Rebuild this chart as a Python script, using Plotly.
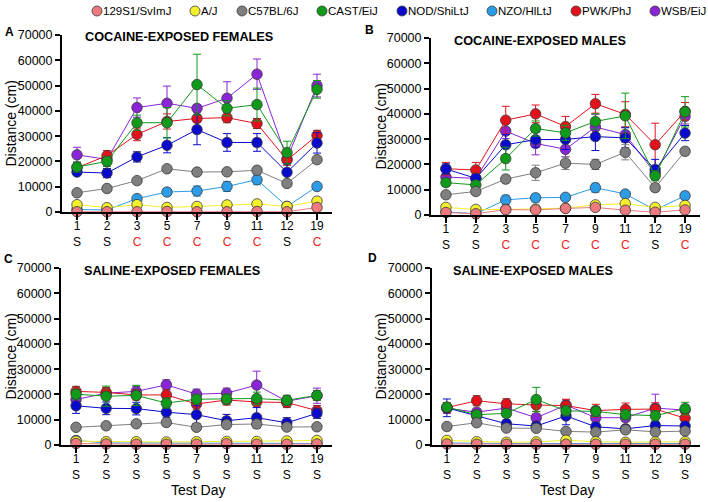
import plotly.graph_objects as go

# ---------------- data ----------------
days = ["1", "2", "3", "5", "7", "9", "11", "12", "19"]
cocaine_phase = ["S", "S", "C", "C", "C", "C", "C", "S", "C"]
saline_phase = ["S", "S", "S", "S", "S", "S", "S", "S", "S"]

strains = ["129S1/SvImJ", "A/J", "C57BL/6J", "CAST/EiJ", "NOD/ShiLtJ", "NZO/HlLtJ", "PWK/PhJ", "WSB/EiJ"]
colors = ["#EC7A7E", "#F4F02C", "#7F7F7F", "#109A1A", "#0A0ACC", "#2C9CE6", "#E3111B", "#8A24D6"]

# A: cocaine-exposed females (mean, SEM in cm)
coc_f_mean = {
    "129S1/SvImJ": [100, 100, 100, 200, 100, 100, 200, 100, 1800],
    "A/J": [2900, 1700, 2900, 1800, 2200, 2800, 3200, 2200, 4300],
    "C57BL/6J": [7600, 9300, 12400, 17100, 15800, 15900, 16500, 11300, 20700],
    "CAST/EiJ": [17800, 20000, 35300, 35300, 50400, 41000, 42500, 23500, 48500],
    "NOD/ShiLtJ": [15800, 15400, 21800, 26400, 32600, 27500, 27500, 15700, 27300],
    "NZO/HlLtJ": [1000, 800, 5300, 7900, 8300, 10100, 12800, 2200, 10100],
    "PWK/PhJ": [17500, 22300, 30700, 35800, 37000, 37300, 35000, 20500, 30300],
    "WSB/EiJ": [22600, 20800, 41300, 43000, 41000, 45000, 54500, 21000, 50000],
}
coc_f_sem = {
    "129S1/SvImJ": [100, 100, 100, 100, 100, 100, 100, 100, 1000],
    "A/J": [400, 400, 400, 400, 400, 400, 400, 400, 400],
    "C57BL/6J": [800, 800, 800, 800, 800, 800, 1200, 1000, 1000],
    "CAST/EiJ": [2000, 2000, 3000, 6000, 12000, 3000, 6500, 4500, 3500],
    "NOD/ShiLtJ": [1000, 1800, 2000, 3000, 6000, 3500, 3500, 3500, 4000],
    "NZO/HlLtJ": [400, 400, 1000, 1000, 2000, 2000, 2000, 500, 1000],
    "PWK/PhJ": [2000, 2000, 2500, 3000, 1500, 2000, 2000, 2000, 2000],
    "WSB/EiJ": [3000, 1500, 3800, 6800, 1500, 6500, 6000, 2000, 4500],
}

# B: cocaine-exposed males
coc_m_mean = {
    "129S1/SvImJ": [1000, 500, 2100, 2000, 2600, 3000, 1900, 1100, 2000],
    "A/J": [3000, 2200, 2200, 2300, 2700, 4000, 4500, 3000, 3800],
    "C57BL/6J": [8000, 9300, 14200, 16700, 20500, 20000, 24800, 10800, 25200],
    "CAST/EiJ": [12800, 11900, 22300, 34200, 32500, 37000, 39200, 15500, 40800],
    "NOD/ShiLtJ": [18200, 14500, 27800, 29800, 29900, 31000, 30500, 18000, 32400],
    "NZO/HlLtJ": [1200, 500, 6000, 6800, 7000, 10800, 8300, 2000, 7600],
    "PWK/PhJ": [18300, 17800, 37500, 40000, 35000, 44000, 39800, 27800, 41000],
    "WSB/EiJ": [15000, 14500, 33200, 28300, 26000, 34800, 31800, 16500, 39000],
}
coc_m_sem = {
    "129S1/SvImJ": [300, 300, 300, 300, 300, 300, 300, 300, 300],
    "A/J": [500, 500, 500, 500, 500, 500, 500, 500, 500],
    "C57BL/6J": [1000, 1000, 1500, 3000, 2500, 2000, 3000, 1500, 1500],
    "CAST/EiJ": [1500, 1500, 4500, 3000, 3000, 3000, 9000, 2000, 6000],
    "NOD/ShiLtJ": [2000, 1500, 4000, 3000, 4000, 5500, 4000, 4000, 3000],
    "NZO/HlLtJ": [500, 500, 1800, 1500, 1000, 1800, 1000, 500, 1500],
    "PWK/PhJ": [2500, 3000, 5500, 3500, 4000, 3700, 5000, 8500, 3500],
    "WSB/EiJ": [2000, 1500, 3000, 4500, 3000, 5000, 3000, 1500, 3000],
}

# C: saline-exposed females
sal_f_mean = {
    "129S1/SvImJ": [600, 400, 300, 300, 300, 500, 300, 300, 400],
    "A/J": [1500, 1300, 1300, 1200, 1300, 1400, 1400, 1600, 1800],
    "C57BL/6J": [7000, 7600, 8400, 8900, 7000, 8100, 8300, 7100, 7200],
    "CAST/EiJ": [20100, 19300, 19600, 16600, 18100, 18200, 18400, 17700, 19600],
    "NOD/ShiLtJ": [15500, 14500, 14400, 13000, 12000, 9600, 10800, 8800, 12500],
    "NZO/HlLtJ": [1800, 800, 800, 800, 800, 800, 600, 600, 600],
    "PWK/PhJ": [21200, 20800, 19800, 19800, 16200, 17800, 17000, 16800, 13600],
    "WSB/EiJ": [18000, 20500, 21200, 23800, 20100, 20500, 23700, 17300, 19500],
}
sal_f_sem = {
    "129S1/SvImJ": [200, 200, 200, 200, 200, 200, 200, 200, 200],
    "A/J": [300, 300, 300, 300, 300, 300, 300, 300, 300],
    "C57BL/6J": [800, 800, 800, 800, 800, 800, 800, 800, 800],
    "CAST/EiJ": [2000, 4000, 4000, 2000, 2000, 2000, 2500, 2000, 2000],
    "NOD/ShiLtJ": [3000, 2500, 2500, 2000, 3500, 2500, 4000, 2000, 2000],
    "NZO/HlLtJ": [300, 300, 300, 300, 300, 300, 300, 300, 300],
    "PWK/PhJ": [2000, 2000, 2000, 2000, 2000, 2000, 2000, 2000, 2000],
    "WSB/EiJ": [2000, 2000, 2000, 2000, 2000, 2000, 5500, 2000, 3000],
}

# D: saline-exposed males
sal_m_mean = {
    "129S1/SvImJ": [400, 300, 300, 300, 300, 300, 300, 300, 300],
    "A/J": [1800, 1300, 1100, 1200, 1900, 1300, 1100, 1200, 1300],
    "C57BL/6J": [7300, 8800, 6700, 6600, 5400, 5100, 6000, 5200, 5500],
    "CAST/EiJ": [15000, 12000, 12500, 18000, 13500, 13300, 12000, 11600, 14400],
    "NOD/ShiLtJ": [14700, 11500, 8400, 7500, 11500, 7200, 6400, 7700, 7500],
    "NZO/HlLtJ": [800, 600, 600, 600, 600, 600, 600, 600, 600],
    "PWK/PhJ": [14800, 17500, 16300, 15800, 15600, 13600, 14100, 14200, 10600],
    "WSB/EiJ": [14500, 13000, 14600, 10800, 15800, 10800, 10800, 14600, 13800],
}
sal_m_sem = {
    "129S1/SvImJ": [200, 200, 200, 200, 200, 200, 200, 200, 200],
    "A/J": [300, 300, 300, 300, 300, 300, 300, 300, 300],
    "C57BL/6J": [800, 800, 800, 800, 800, 800, 800, 800, 800],
    "CAST/EiJ": [1500, 1500, 1500, 4800, 2000, 2000, 2000, 2000, 2500],
    "NOD/ShiLtJ": [3500, 1500, 1500, 1500, 3500, 1500, 1000, 1500, 1500],
    "NZO/HlLtJ": [200, 200, 200, 200, 200, 200, 200, 200, 200],
    "PWK/PhJ": [2000, 2000, 2000, 2500, 2500, 2500, 2500, 2500, 2000],
    "WSB/EiJ": [2000, 1500, 1500, 1500, 2000, 1500, 1500, 5500, 2000],
}

panel_titles = ["COCAINE-EXPOSED FEMALES", "COCAINE-EXPOSED MALES",
                "SALINE-EXPOSED FEMALES", "SALINE-EXPOSED MALES"]
panel_letters = ["A", "B", "C", "D"]

# ---------------- layout helpers ----------------
W, H = 708, 502
FONT = "Arial, Liberation Sans, sans-serif"


def fx(px):
    return px / W


def fy(py):
    return 1 - py / H


def tick_labels(phase):
    out = []
    for d, p in zip(days, phase):
        if p == "C":
            out.append(f"{d}<br><span style='color:#E8241E'>{p}</span>")
        else:
            out.append(f"{d}<br>{p}")
    return out


# pixel boxes: (left, right, y of 0, y of 70000)
boxes = [(62, 332, 212, 35), (431, 700, 215, 38), (61, 332, 445, 268), (432, 700, 445, 268)]
means = [coc_f_mean, coc_m_mean, sal_f_mean, sal_m_mean]
sems = [coc_f_sem, coc_m_sem, sal_f_sem, sal_m_sem]
phases = [cocaine_phase, cocaine_phase, saline_phase, saline_phase]

fig = go.Figure()
layout = {}
annotations = []
shapes = []

for i in range(4):
    sfx = "" if i == 0 else str(i + 1)
    xa, ya = "x" + sfx, "y" + sfx
    for k in reversed(range(len(strains))):
        s = strains[k]
        c = colors[k]
        fig.add_trace(go.Scatter(
            x=days, y=means[i][s], xaxis=xa, yaxis=ya,
            mode="lines+markers", name=s, showlegend=False,
            line=dict(color=c, width=1),
            marker=dict(size=10.5, color=c, line=dict(color="#3a3a3a", width=0.8)),
            error_y=dict(type="data", array=sems[i][s], color=c, thickness=1, width=4),
            cliponaxis=False,
        ))
    l, r, b, t = boxes[i]
    layout["xaxis" + sfx] = dict(
        domain=[fx(l), fx(r)], anchor=ya, type="category", range=[-0.5, 8.5],
        tickmode="array", tickvals=days, ticktext=tick_labels(phases[i]),
        showline=True, linecolor="black", linewidth=2, ticks="outside",
        ticklen=6, tickwidth=2, tickcolor="black", showgrid=False, zeroline=False,
        automargin=False, ticklabelstandoff=-4,
        tickfont=dict(size=12, color="black", family=FONT),
    )
    layout["yaxis" + sfx] = dict(
        domain=[fy(b), fy(t)], anchor=xa, range=[0, 70000], dtick=10000,
        tickformat="d", showline=True, linecolor="black", linewidth=2,
        ticks="outside", ticklen=5, tickwidth=1.5, tickcolor="black",
        showgrid=False, zeroline=False, automargin=False,
        tickfont=dict(size=12.5, color="black", family=FONT),
    )
    # panel title
    tx = {0: 179, 1: 540, 2: 172, 3: 533}[i]
    ty = {0: 37, 1: 41, 2: 271, 3: 271}[i]
    annotations.append(dict(text=f"<b>{panel_titles[i]}</b>", x=fx(tx), y=fy(ty),
                            xanchor="center", yanchor="middle",
                            xref="paper", yref="paper", showarrow=False,
                            font=dict(size=12.7, color="black", family=FONT)))
    # panel letter
    lx = {0: 9, 1: 369, 2: 8, 3: 372}[i]
    ly = {0: 32, 1: 30, 2: 259, 3: 258}[i]
    annotations.append(dict(text=f"<b>{panel_letters[i]}</b>", x=fx(lx), y=fy(ly),
                            xanchor="center", yanchor="middle",
                            xref="paper", yref="paper", showarrow=False,
                            font=dict(size=12, color="black", family=FONT)))
    # y title
    yx = {0: 10, 1: 380, 2: 10, 3: 380}[i]
    annotations.append(dict(text="Distance (cm)", x=fx(yx), y=fy((b + t) / 2),
                            xanchor="center", yanchor="middle",
                            xref="paper", yref="paper", showarrow=False, textangle=-90,
                            font=dict(size=14, color="black", family=FONT)))
    if i >= 2:
        annotations.append(dict(text="Test Day", x=fx((l + r) / 2 + 1), y=fy(490),
                                xanchor="center", yanchor="middle",
                                xref="paper", yref="paper", showarrow=False,
                                font=dict(size=14, color="black", family=FONT)))

# ---------------- legend row (drawn as shapes + text) ----------------
legend_marker_px = [97, 195, 242, 322, 402, 492, 576, 655]
legend_y_px = 11
for k, s in enumerate(strains):
    mx = legend_marker_px[k]
    shapes.append(dict(type="circle", xref="paper", yref="paper",
                       xsizemode="pixel", ysizemode="pixel",
                       xanchor=fx(mx), yanchor=fy(legend_y_px),
                       x0=-5, x1=5, y0=-5, y1=5,
                       fillcolor=colors[k], line=dict(color="#3a3a3a", width=0.8)))
    annotations.append(dict(text=s, x=fx(mx + 4), y=fy(legend_y_px),
                            xanchor="left", yanchor="middle",
                            xref="paper", yref="paper", showarrow=False,
                            font=dict(size=11.5, color="black", family=FONT)))

fig.update_layout(
    width=W, height=H, margin=dict(l=0, r=0, t=0, b=0, autoexpand=False),
    paper_bgcolor="white", plot_bgcolor="white",
    font=dict(family=FONT, color="black"),
    showlegend=False,
    annotations=annotations,
    shapes=shapes,
    **layout,
)

fig.write_html("out.html", config={"displayModeBar": False},
               post_script="document.body.style.margin='0px';")
